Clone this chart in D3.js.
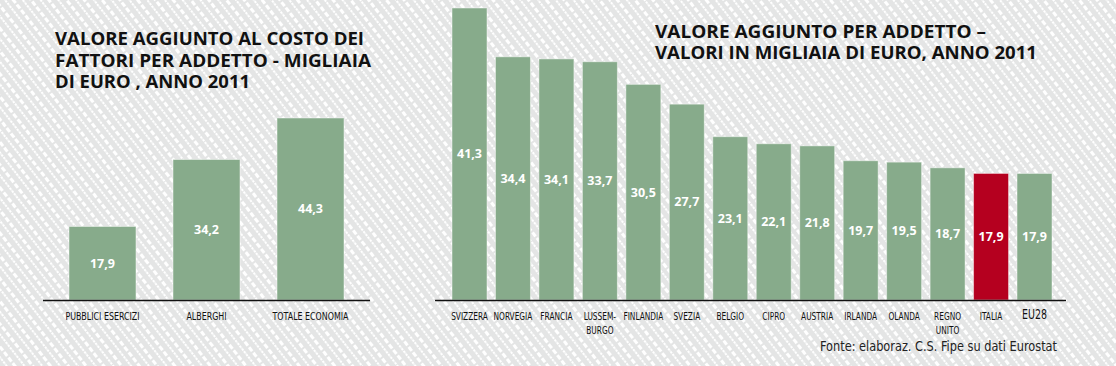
<!DOCTYPE html>
<html><head><meta charset="utf-8">
<script src="https://cdn.jsdelivr.net/npm/d3@7"></script>
<style>html,body{margin:0;padding:0;background:#e6e7e7;}svg{display:block}</style>
</head><body>
<svg id="c" width="1116" height="366"></svg>
<script>
// ---- data ----
const leftCategories = ["PUBBLICI ESERCIZI", "ALBERGHI", "TOTALE ECONOMIA"];
const leftValues = [17.9, 34.2, 44.3];
const leftTitle = ["VALORE AGGIUNTO AL COSTO DEI", "FATTORI PER ADDETTO - MIGLIAIA", "DI EURO , ANNO 2011"];

const rightCategories = ["SVIZZERA", "NORVEGIA", "FRANCIA", "LUSSEM-\nBURGO", "FINLANDIA", "SVEZIA", "BELGIO",
  "CIPRO", "AUSTRIA", "IRLANDA", "OLANDA", "REGNO\nUNITO", "ITALIA", "EU28"];
const rightValues = [41.3, 34.4, 34.1, 33.7, 30.5, 27.7, 23.1, 22.1, 21.8, 19.7, 19.5, 18.7, 17.9, 17.9];
const rightTitle = ["VALORE AGGIUNTO PER ADDETTO \u2013", "VALORI IN MIGLIAIA DI EURO, ANNO 2011"];
const highlight = "ITALIA";
const sourceText = "Fonte: elaboraz. C.S. Fipe su dati Eurostat";

// ---- style ----
const GREEN = "#87ab8b", RED = "#b5001f", BG = "#e4e5e5";
const labelFont = "'Liberation Sans Narrow','DejaVu Sans Condensed','Arial Narrow',sans-serif";
const titleFont = "'Open Sans','Noto Sans',sans-serif";
const fmt = v => d3.format(".1f")(v).replace(".", ",");

const svg = d3.select("#c");
const defs = svg.append("defs");
const pat = defs.append("pattern").attr("id", "bg").attr("patternUnits", "userSpaceOnUse")
  .attr("width", 14).attr("height", 14).attr("patternTransform", "rotate(52)");
pat.append("rect").attr("width", 14).attr("height", 14).attr("fill", BG);
pat.append("line").attr("x1", 0).attr("y1", 3.5).attr("x2", 14).attr("y2", 3.5)
  .attr("stroke", "#fff").attr("stroke-width", 3.2).attr("stroke-dasharray", "5,2");
pat.append("line").attr("x1", 0).attr("y1", 10).attr("x2", 14).attr("y2", 10)
  .attr("stroke", "#fff").attr("stroke-width", 1.8).attr("stroke-dasharray", "2.5,1");
svg.append("rect").attr("width", 1116).attr("height", 366).attr("fill", "url(#bg)");

function title(lines, x, y0, dy, widths) {
  const t = svg.append("g");
  lines.forEach((l, i) => {
    t.append("text").attr("x", x).attr("y", y0 + i * dy)
      .attr("font-family", titleFont).attr("font-weight", 700).attr("font-size", 17)
      .attr("fill", "#111").attr("textLength", widths[i]).attr("lengthAdjust", "spacingAndGlyphs")
      .text(l);
  });
}

function chart(cats, vals, xr, pad, yr, axisX, labelScale) {
  const names = cats.map(c => c.replace("\n", " "));
  const x = d3.scaleBand().domain(names).range(xr).paddingInner(pad).paddingOuter(0);
  const y = d3.scaleLinear().domain([0, d3.max(vals)]).range(yr);
  const g = svg.append("g");
  g.selectAll("rect.bar").data(vals).join("rect").attr("class", "bar")
    .attr("x", (d, i) => x(names[i])).attr("width", x.bandwidth())
    .attr("y", d => y(d)).attr("height", d => y(0) - y(d))
    .attr("fill", (d, i) => names[i] === highlight ? RED : GREEN)
    .attr("stroke", "rgba(255,255,255,0.45)").attr("stroke-width", 1);
  g.selectAll("text.val").data(vals).join("text").attr("class", "val")
    .attr("x", (d, i) => x(names[i]) + x.bandwidth() / 2)
    .attr("y", d => (y(d) + y(0)) / 2).attr("dy", "0.35em")
    .attr("text-anchor", "middle").attr("fill", "#fff")
    .attr("font-family", titleFont).attr("font-weight", 700).attr("font-size", 12.5)
    .text(d => fmt(d));
  const ax = g.append("g").attr("transform", `translate(0,${y(0)})`)
    .call(d3.axisBottom(x).tickSize(0).tickPadding(0).tickFormat(""));
  ax.select(".domain").remove();
  g.append("line").attr("x1", axisX[0]).attr("x2", axisX[1])
    .attr("y1", y(0) + 0.5).attr("y2", y(0) + 0.5).attr("stroke", "#111").attr("stroke-width", 1.6);
  ax.selectAll(".tick").each(function (d, i) {
    const lines = cats[i].split("\n");
    const big = cats[i] === "EU28";
    const t = d3.select(this).append("text")
      .attr("text-anchor", "middle").attr("fill", "#111")
      .attr("font-family", labelFont).attr("font-size", big ? 14 : 11)
      .attr("transform", `scale(${labelScale},1)`);
    lines.forEach((l, j) => {
      t.append("tspan").attr("x", 0).attr("y", (big ? 19 : 20.5) + j * 14).text(l);
    });
  });
  return {x, y};
}

title(leftTitle, 55, 45, 21.5, [309, 316, 195]);
title(rightTitle, 655, 37.5, 21, [331, 382]);

chart(leftCategories, leftValues, [69, 344], 0.356, [300, 118], [43, 370], 0.8);
chart(rightCategories, rightValues, [452, 1052], 0.195, [300, 8], [435, 1066], 0.75);

svg.append("text").attr("x", 820).attr("y", 351)
  .attr("font-family", labelFont).attr("font-size", 14).attr("fill", "#222")
  .attr("textLength", 237).attr("lengthAdjust", "spacingAndGlyphs")
  .text(sourceText);
</script>
</body></html>
